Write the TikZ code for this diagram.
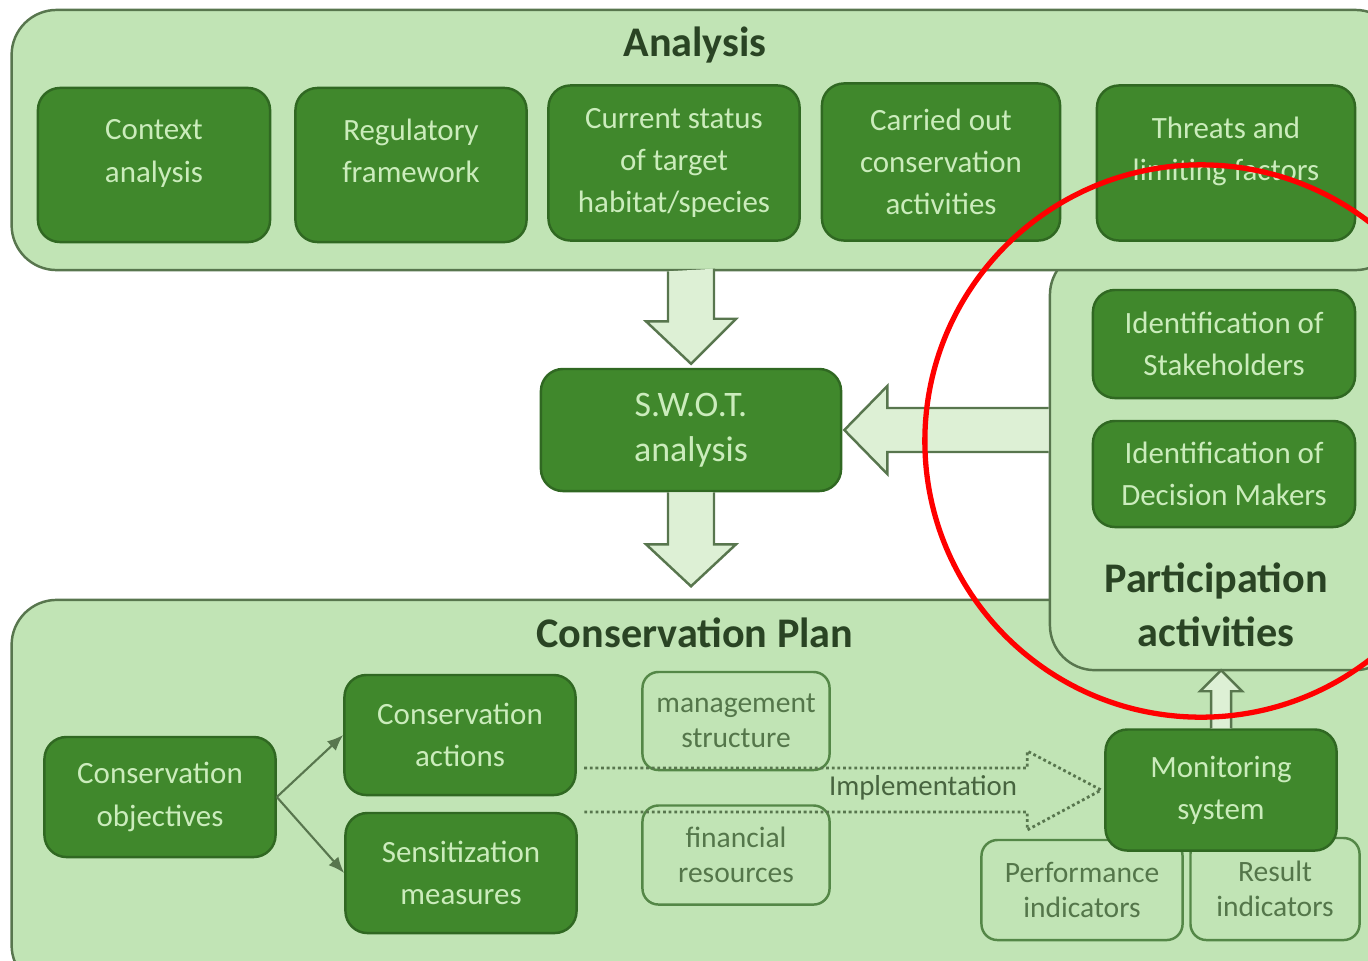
\documentclass[tikz,border=0pt]{standalone}
\usepackage{fontspec}
\setmainfont{Carlito}
\usetikzlibrary{calc,arrows.meta}

\definecolor{panelfill}{RGB}{193,228,181}
\definecolor{panelline}{RGB}{88,118,78}
\definecolor{boxfill}{RGB}{64,136,44}
\definecolor{boxline}{RGB}{48,104,34}
\definecolor{boxtext}{RGB}{203,236,188}
\definecolor{titletext}{RGB}{42,68,36}
\definecolor{lighttext}{RGB}{84,118,74}
\definecolor{arrowfill}{RGB}{221,240,213}

\tikzset{
  panel/.style={draw=panelline, fill=panelfill, line width=0.7pt, rounded corners=0.45cm},
  greenbox/.style={draw=boxline, fill=boxfill, text=boxtext, line width=0.7pt,
    rounded corners=0.22cm, align=center, font=\fontsize{8.8}{12}\selectfont},
  plainbox/.style={draw=boxline!75!panelfill, line width=0.7pt, rounded corners=0.16cm,
    text=lighttext, align=center, font=\fontsize{8.4}{10}\selectfont},
  paneltitle/.style={text=titletext, font=\fontsize{12}{15.4}\selectfont\bfseries, align=center},
  hollow/.style={draw=panelline, fill=arrowfill, line width=0.7pt},
  dotline/.style={draw=panelline, line width=0.8pt, dash pattern=on 0.8pt off 0.8pt},
  thinarrow/.style={draw=panelline, line width=0.6pt, -{Latex[length=1.6mm,width=1.3mm]}},
}

\begin{document}
\begin{tikzpicture}[x=0.01cm, y=-0.01cm]
\useasboundingbox (0,0) rectangle (1368,960);
\clip (0,0) rectangle (1368,960);

% panels
\node[panel, minimum width=13.88cm, minimum height=3.9cm] (plan) at (706,795) {};
\node[panel, minimum width=3.5cm, minimum height=4.2cm] (par) at (1225,460) {};
\node[panel, minimum width=13.88cm, minimum height=2.6cm] (ana) at (706,140) {};

\node[paneltitle] (anatitle) at (695,45) {Analysis};
\node[paneltitle] (partitle) at (1216,605) {Participation\\activities};
\node[paneltitle] (plantitle) at (695,633) {Conservation Plan};

% analysis row
\node[greenbox, minimum width=2.32cm, minimum height=1.54cm, text depth=8pt] (ctx) at (154,165) {Context\\analysis};
\node[greenbox, minimum width=2.31cm, minimum height=1.54cm, text depth=8pt] (reg) at (411,165) {Regulatory\\framework};
\node[greenbox, minimum width=2.51cm, minimum height=1.55cm] (cur) at (674,163) {Current status\\of target\\habitat/species};
\node[greenbox, minimum width=2.38cm, minimum height=1.57cm] (car) at (941,162) {Carried out\\conservation\\activities};
\node[greenbox, minimum width=2.58cm, minimum height=1.55cm, text depth=8pt] (thr) at (1226,163) {Threats and\\limiting factors};

% participation
\node[greenbox, minimum width=2.62cm, minimum height=1.08cm] (stk) at (1224,344) {Identification of\\Stakeholders};
\node[greenbox, minimum width=2.62cm, minimum height=1.06cm] (dec) at (1224,474) {Identification of\\Decision Makers};

% swot
\node[greenbox, minimum width=3.0cm, minimum height=1.22cm, font=\fontsize{10.2}{12.8}\selectfont] (swot) at (691,430) {S.W.O.T.\\analysis};

% conservation plan
\node[greenbox, minimum width=2.31cm, minimum height=1.2cm] (obj) at (160,797) {Conservation\\objectives};
\node[greenbox, minimum width=2.31cm, minimum height=1.2cm] (act) at (460,735) {Conservation\\actions};
\node[greenbox, minimum width=2.31cm, minimum height=1.2cm] (sen) at (461,873) {Sensitization\\measures};
\node[plainbox, minimum width=1.87cm, minimum height=0.98cm] (mgt) at (736,721) {management\\structure};
\node[plainbox, minimum width=1.87cm, minimum height=0.99cm] (fin) at (736,855) {financial\\resources};
\node[plainbox, minimum width=2.01cm, minimum height=1.0cm] (perf) at (1082,890) {Performance\\indicators};
\node[plainbox, minimum width=1.69cm, minimum height=1.02cm] (res) at (1275,889) {Result\\indicators};
\node[greenbox, minimum width=2.31cm, minimum height=1.21cm] (mon) at (1221,790) {Monitoring\\system};

% block arrows
\draw[hollow] ($(ana.south -| swot.north)+(-23,0)$) -- ++(0,50) -- ++(-22,0)
  -- ($(swot.north)+(0,-4)$) -- ++(45,-45) -- ++(-22,0) -- ++(0,-50);
\draw[hollow] ($(swot.south)+(-23,0)$) -- ++(0,52) -- ++(-22,0) -- ++(45,42)
  -- ++(45,-42) -- ++(-22,0) -- ++(0,-52);
\draw[hollow] ($(par.west |- swot.east)+(0,-22)$) -| ($(swot.east)+(45,-44)$)
  -- ($(swot.east)+(2,0)$) -- ($(swot.east)+(45,44)$) |- ($(par.west |- swot.east)+(0,22)$);
\draw[hollow] ($(mon.north)+(-10,0)$) -- ++(0,-37) -- ++(-11,0) -- ++(21,-21)
  -- ++(21,21) -- ++(-11,0) -- ++(0,37);

% implementation
\draw[dotline] ($(mon.west)+(-520,-22)$) -- ++(443,0) -- ++(0,-17)
  -- ($(mon.west)+(-3,0)$) -- ($(mon.west)+(-77,40)$) -- ++(0,-18) -- ++(-443,0);
\node[text=lighttext!85!black, font=\fontsize{8.2}{10}\selectfont] (impl) at (923,788) {Implementation};

\draw[thinarrow] (obj.east) -- (act.west);
\draw[thinarrow] (obj.east) -- (sen.west);

% highlight
\draw[red, line width=1.5pt] (1201,441) circle[radius=2.76cm];
\end{tikzpicture}
\end{document}
